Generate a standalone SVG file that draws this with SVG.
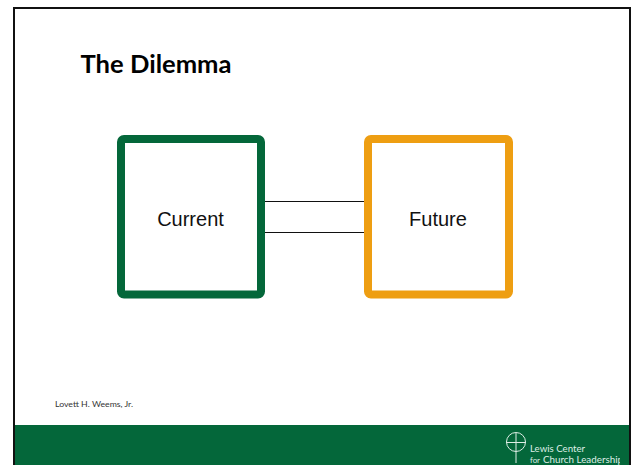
<svg xmlns="http://www.w3.org/2000/svg" width="632" height="465" viewBox="0 0 632 465">
<style>
.sans{font-family:"Liberation Sans",Arial,sans-serif}
.cal{font-family:Lato,"Open Sans",sans-serif}
.box{fill:#fff;stroke-width:8}
.label{font-size:20px;fill:#111;text-anchor:middle}
.link{stroke:#111;stroke-width:1;fill:none}
.logo{fill:none;stroke:#dfeee6;stroke-width:1}
.logot{fill:#dfeee6;font-family:Lato,"Open Sans",sans-serif}
</style>
<defs><clipPath id="logoclip"><rect x="525" y="430" width="95" height="35"/></clipPath></defs>
<rect width="632" height="465" fill="#fff"/>
<rect x="14" y="8" width="616" height="470" fill="#fff" stroke="#111" stroke-width="2"/>
<g id="title"><text x="80.500" y="73" class="cal" font-size="24" font-weight="700" fill="#000" textLength="151" lengthAdjust="spacingAndGlyphs">The Dilemma</text></g>
<g id="connectors">
<line class="link" x1="265" y1="201.500" x2="365" y2="201.500"/>
<line class="link" x1="265" y1="232.500" x2="365" y2="232.500"/>
</g>
<g id="current"><rect class="box" x="121" y="139" width="140" height="155.500" rx="3" stroke="#04673a"/><text class="label sans" x="190.500" y="226">Current</text></g>
<g id="future"><rect class="box" x="368" y="139" width="141" height="155.500" rx="3" stroke="#ee9e12"/><text class="label sans" x="438" y="226">Future</text></g>
<g id="author"><text x="55" y="407" class="cal" font-size="8" fill="#333" textLength="78" lengthAdjust="spacingAndGlyphs">Lovett H. Weems, Jr.</text></g>
<g id="footer">
<rect x="13" y="425" width="618" height="40" fill="#04673a"/>
<rect x="13" y="425" width="2" height="40" fill="#111"/>
<rect x="629" y="425" width="2" height="40" fill="#111"/>
</g>
<g id="logo">
<circle class="logo" cx="516" cy="442" r="9.500"/>
<line class="logo" x1="516" y1="433" x2="516" y2="463"/>
<line class="logo" x1="506" y1="442.500" x2="526" y2="442.500"/>
<g clip-path="url(#logoclip)">
<text class="logot" x="530" y="452" font-size="9" textLength="55" lengthAdjust="spacingAndGlyphs">Lewis Center</text>
<text class="logot" x="530" y="463" font-size="7" textLength="10" lengthAdjust="spacingAndGlyphs">for</text>
<text class="logot" x="543" y="463" font-size="9" textLength="80" lengthAdjust="spacingAndGlyphs">Church Leadership</text>
</g>
</g>
</svg>
